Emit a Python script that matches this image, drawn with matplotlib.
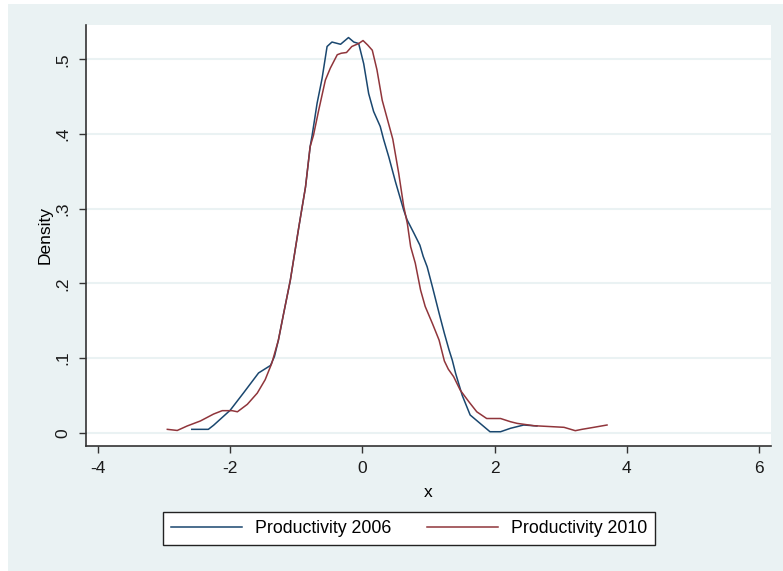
import numpy as np
import matplotlib.pyplot as plt
from matplotlib.patches import Rectangle

# kernel density curves
x_2006 = [-2.58, -2.33, -2.25, -2.00, -1.80, -1.57, -1.39, -1.33, -1.27, -1.19,
          -1.09, -0.96, -0.86, -0.79, -0.76, -0.685, -0.61, -0.534, -0.46, -0.33,
          -0.21, -0.13, -0.056, 0.02, 0.095, 0.17, 0.27, 0.32, 0.40, 0.50,
          0.625, 0.676, 0.78, 0.87, 0.92, 0.98, 1.06, 1.16, 1.24, 1.31,
          1.36, 1.41, 1.51, 1.63, 1.78, 1.93, 2.09, 2.24, 2.44, 2.64]
y_2006 = [0.0045, 0.0045, 0.010, 0.030, 0.053, 0.080, 0.090, 0.102, 0.124, 0.160,
          0.204, 0.276, 0.329, 0.383, 0.398, 0.441, 0.474, 0.517, 0.523, 0.520,
          0.529, 0.523, 0.521, 0.494, 0.454, 0.430, 0.410, 0.393, 0.369, 0.336,
          0.298, 0.285, 0.267, 0.251, 0.236, 0.222, 0.195, 0.160, 0.133, 0.111,
          0.097, 0.0795, 0.050, 0.0237, 0.0125, 0.0013, 0.0013, 0.0059, 0.0103, 0.009]

x_2010 = [-2.95, -2.80, -2.65, -2.45, -2.25, -2.12, -1.97, -1.89, -1.74, -1.59,
          -1.47, -1.37, -1.27, -1.19, -1.09, -0.96, -0.86, -0.79, -0.74, -0.66,
          -0.56, -0.485, -0.38, -0.32, -0.24, -0.16, -0.056, 0.01, 0.08, 0.15,
          0.22, 0.30, 0.38, 0.46, 0.55, 0.625, 0.68, 0.73, 0.80, 0.88,
          0.95, 1.06, 1.16, 1.24, 1.30, 1.38, 1.48, 1.61, 1.73, 1.88,
          2.09, 2.24, 2.34, 2.59, 3.05, 3.22, 3.32, 3.50, 3.70]
y_2010 = [0.0045, 0.003, 0.009, 0.0157, 0.025, 0.0295, 0.0295, 0.028, 0.038, 0.053,
          0.071, 0.093, 0.124, 0.160, 0.204, 0.276, 0.329, 0.383, 0.398, 0.432,
          0.472, 0.488, 0.506, 0.508, 0.509, 0.517, 0.521, 0.525, 0.519, 0.512,
          0.486, 0.445, 0.419, 0.393, 0.347, 0.303, 0.280, 0.249, 0.227, 0.191,
          0.169, 0.146, 0.124, 0.096, 0.085, 0.075, 0.057, 0.0415, 0.028, 0.019,
          0.019, 0.0147, 0.0125, 0.0094, 0.0072, 0.0027, 0.0045, 0.0072, 0.0103]

x_ticks = [-4, -2, 0, 2, 4, 6]
y_ticks = [0, 0.1, 0.2, 0.3, 0.4, 0.5]
y_tick_labels = ['0', '.1', '.2', '.3', '.4', '.5']

plt.rcParams['font.family'] = ['Liberation Sans', 'DejaVu Sans']
plt.rcParams['axes.unicode_minus'] = False

W, H = 783, 571
fig = plt.figure(figsize=(W / 100, H / 100), dpi=100)
fig.patch.set_facecolor('white')

# Stata-like graph region (drawn behind the axes)
bg = '#EAF2F3'
fig.patches.append(Rectangle((8 / W, 0), 1 - 8 / W, 1 - 4 / H,
                             transform=fig.transFigure, facecolor=bg,
                             edgecolor='none', zorder=-10))

ax = fig.add_axes([86 / W, (H - 446) / H, (771 - 86) / W, (446 - 25) / H])
ax.set_zorder(1)
ax.set_facecolor('white')

navy = '#1A476F'
maroon = '#90353B'
ax.plot(x_2006, y_2006, color=navy, lw=1.1, label='Productivity 2006', zorder=3)
ax.plot(x_2010, y_2010, color=maroon, lw=1.1, label='Productivity 2010', zorder=3)

ax.set_xlim(-4.18, 6.18)
ax.set_ylim(-0.0178, 0.5458)
ax.set_xticks(x_ticks)
ax.set_yticks(y_ticks)
ax.set_yticklabels(y_tick_labels, rotation=90, va='center')

ax.grid(axis='y', color=bg, lw=1.5)
ax.set_axisbelow(True)

for s in ['top', 'right']:
    ax.spines[s].set_visible(False)
for s in ['left', 'bottom']:
    ax.spines[s].set_color('#333333')
    ax.spines[s].set_linewidth(1.2)

ax.tick_params(direction='out', length=5, width=1, colors='#333333',
               labelsize=12.5, labelcolor='#1a1a1a', pad=6)

ax.set_xlabel('x', fontsize=12.5, labelpad=6)
ax.set_ylabel('Density', fontsize=12.5, labelpad=2)

leg = fig.legend(loc='center', bbox_to_anchor=(409 / W, 1 - 528.5 / H),
                 ncol=2, fontsize=12.8, frameon=True, fancybox=False,
                 framealpha=1, edgecolor='#222222', handlelength=4.0,
                 handletextpad=0.75, columnspacing=2.0, borderpad=0.45)
leg.get_frame().set_linewidth(1.0)
leg.set_zorder(2)

fig.savefig('out.png', dpi=100)
